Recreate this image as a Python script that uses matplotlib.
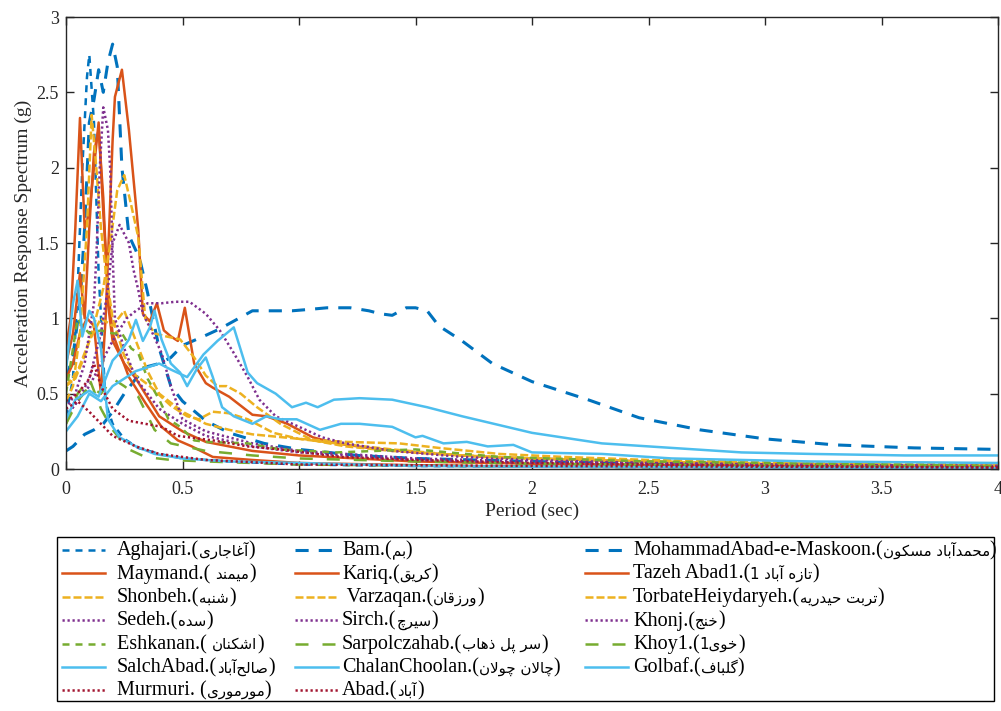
import re
import matplotlib
matplotlib.use("Agg")
import matplotlib.pyplot as plt
from matplotlib.lines import Line2D
from matplotlib.patches import Rectangle
from matplotlib.ticker import FormatStrFormatter

# ---------------- data ----------------
names_latin = ["Aghajari", "Bam", "MohammadAbad-e-Maskoon", "Maymand", "Kariq", "Tazeh Abad1",
               "Shonbeh", " Varzaqan", "TorbateHeiydaryeh", "Sedeh", "Sirch", "Khonj",
               "Eshkanan", "Sarpolczahab", "Khoy1", "SalchAbad", "ChalanChoolan", "Golbaf",
               "Murmuri", "Abad"]
names_persian = ["آغاجاری", "بم", "محمدآباد مسکون", "میمند", "کریق", "تازه آباد 1",
                 "شنبه", "ورزقان", "تربت حیدریه", "سده", "سیرچ", "خنج",
                 "اشکنان", "سر پل ذهاب", "خوی1", "صالح\u200cآباد", "چالان چولان", "گلباف",
                 "مورموری", "آباد"]

T_aghajari = [0, 0.03, 0.05, 0.07, 0.09, 0.1, 0.12, 0.14, 0.17, 0.2, 0.25, 0.31, 0.4, 0.5, 0.7, 1.0, 1.5, 2.0, 3.0, 4.0]
SA_aghajari = [0.35, 0.6, 1.2, 2.0, 2.6, 2.75, 2.3, 1.3, 0.44, 0.3, 0.2, 0.14, 0.1, 0.07, 0.05, 0.03, 0.02, 0.015, 0.01, 0.005]

T_bam = [0, 0.03, 0.06, 0.08, 0.1, 0.12, 0.14, 0.16, 0.18, 0.2, 0.22, 0.24, 0.27, 0.3, 0.32, 0.35, 0.4, 0.45, 0.5, 0.6, 0.7, 0.85, 1.0, 1.25, 1.5, 2.0, 2.5, 3.0, 3.5, 4.0]
SA_bam = [0.6, 0.75, 1.1, 1.6, 2.3, 2.45, 2.65, 2.5, 2.7, 2.82, 2.67, 2.0, 1.55, 1.45, 1.37, 1.17, 0.8, 0.55, 0.45, 0.32, 0.24, 0.17, 0.13, 0.09, 0.07, 0.05, 0.035, 0.025, 0.02, 0.015]

T_mohammad = [0, 0.03, 0.08, 0.12, 0.16, 0.2, 0.25, 0.3, 0.35, 0.4, 0.45, 0.5, 0.59, 0.66, 0.73, 0.8, 0.9, 0.97, 1.05, 1.12, 1.22, 1.3, 1.35, 1.4, 1.46, 1.5, 1.55, 1.6, 1.7, 1.83, 2.0, 2.24, 2.46, 2.72, 3.0, 3.3, 3.64, 4.0]
SA_mohammad = [0.12, 0.15, 0.23, 0.26, 0.3, 0.38, 0.5, 0.6, 0.68, 0.7, 0.74, 0.82, 0.88, 0.93, 0.99, 1.05, 1.05, 1.05, 1.06, 1.07, 1.07, 1.05, 1.03, 1.02, 1.07, 1.07, 1.05, 0.95, 0.85, 0.70, 0.58, 0.46, 0.34, 0.26, 0.2, 0.16, 0.14, 0.13]

T_maymand = [0, 0.02, 0.04, 0.06, 0.08, 0.1, 0.12, 0.14, 0.16, 0.18, 0.2, 0.27, 0.34, 0.41, 0.48, 0.54, 0.63, 0.8, 1.0, 1.5, 2.0, 3.0, 4.0]
SA_maymand = [0.8, 1.0, 1.6, 2.33, 1.6, 1.7, 2.0, 2.3, 1.7, 1.2, 0.9, 0.61, 0.44, 0.28, 0.19, 0.15, 0.08, 0.06, 0.04, 0.025, 0.015, 0.01, 0.005]

T_kariq = [0, 0.03, 0.06, 0.09, 0.12, 0.15, 0.17, 0.2, 0.21, 0.24, 0.27, 0.29, 0.31, 0.33, 0.36, 0.39, 0.42, 0.45, 0.48, 0.51, 0.55, 0.6, 0.63, 0.7, 0.8, 0.86, 0.95, 1.06, 1.16, 1.3, 1.5, 1.8, 2.0, 2.5, 3.0, 3.5, 4.0]
SA_kariq = [0.6, 0.7, 0.9, 1.0, 0.95, 0.5, 1.0, 2.18, 2.47, 2.65, 2.25, 1.92, 1.59, 1.03, 0.98, 1.1, 0.92, 0.88, 0.85, 1.07, 0.70, 0.57, 0.54, 0.48, 0.36, 0.35, 0.3, 0.21, 0.17, 0.14, 0.11, 0.08, 0.07, 0.05, 0.03, 0.025, 0.02]

T_tazeh = [0, 0.03, 0.06, 0.08, 0.1, 0.12, 0.14, 0.16, 0.18, 0.2, 0.25, 0.3, 0.4, 0.5, 0.6, 0.8, 1.0, 1.5, 2.0, 3.0, 4.0]
SA_tazeh = [0.7, 0.9, 1.3, 1.0, 1.6, 2.1, 2.25, 1.8, 1.1, 0.85, 0.7, 0.6, 0.35, 0.25, 0.18, 0.12, 0.09, 0.05, 0.035, 0.02, 0.015]

T_shonbeh = [0, 0.03, 0.06, 0.09, 0.11, 0.13, 0.15, 0.17, 0.2, 0.25, 0.3, 0.36, 0.45, 0.52, 0.57, 0.63, 0.7, 0.78, 0.89, 1.0, 1.16, 1.4, 1.7, 2.0, 2.5, 3.0, 4.0]
SA_shonbeh = [0.45, 0.55, 0.9, 1.6, 2.35, 2.0, 1.6, 1.32, 1.0, 0.75, 0.62, 0.55, 0.42, 0.35, 0.33, 0.38, 0.37, 0.33, 0.24, 0.2, 0.17, 0.13, 0.09, 0.07, 0.05, 0.035, 0.02]

T_varzaqan = [0, 0.05, 0.1, 0.15, 0.2, 0.25, 0.3, 0.35, 0.4, 0.5, 0.6, 0.7, 0.8, 1.0, 1.2, 1.43, 1.6, 1.86, 2.14, 2.5, 3.0, 3.5, 4.0]
SA_varzaqan = [0.55, 0.65, 0.85, 1.0, 0.95, 1.05, 0.85, 0.65, 0.5, 0.38, 0.3, 0.26, 0.23, 0.2, 0.18, 0.17, 0.14, 0.1, 0.08, 0.06, 0.045, 0.035, 0.03]

T_torbat = [0, 0.04, 0.08, 0.12, 0.16, 0.19, 0.22, 0.25, 0.28, 0.31, 0.34, 0.38, 0.43, 0.49, 0.55, 0.6, 0.65, 0.69, 0.75, 0.82, 0.92, 1.06, 1.2, 1.4, 1.7, 2.0, 2.5, 3.0, 4.0]
SA_torbat = [0.55, 0.6, 0.75, 0.95, 1.2, 1.5, 1.85, 1.95, 1.75, 1.54, 1.0, 0.9, 0.88, 0.86, 0.74, 0.62, 0.55, 0.55, 0.5, 0.41, 0.3, 0.19, 0.15, 0.12, 0.09, 0.07, 0.05, 0.035, 0.02]

T_sedeh = [0, 0.04, 0.08, 0.12, 0.13, 0.145, 0.16, 0.18, 0.19, 0.2, 0.21, 0.25, 0.3, 0.4, 0.5, 0.6, 0.8, 1.0, 1.5, 2.0, 3.0, 4.0]
SA_sedeh = [0.4, 0.5, 0.7, 1.1, 1.4, 2.0, 2.4, 2.25, 1.98, 1.43, 1.0, 0.8, 0.6, 0.4, 0.3, 0.22, 0.15, 0.11, 0.06, 0.04, 0.02, 0.01]

T_sirch = [0, 0.05, 0.1, 0.15, 0.2, 0.26, 0.3, 0.35, 0.41, 0.47, 0.53, 0.6, 0.66, 0.72, 0.78, 0.83, 0.9, 1.0, 1.1, 1.2, 1.4, 1.7, 2.0, 2.5, 3.0, 4.0]
SA_sirch = [0.35, 0.45, 0.55, 0.7, 0.85, 1.0, 1.05, 1.1, 1.1, 1.11, 1.11, 1.03, 0.92, 0.77, 0.61, 0.46, 0.35, 0.28, 0.21, 0.17, 0.12, 0.08, 0.06, 0.04, 0.03, 0.02]

T_khonj = [0, 0.05, 0.1, 0.15, 0.18, 0.2, 0.23, 0.27, 0.29, 0.31, 0.33, 0.36, 0.41, 0.45, 0.5, 0.6, 0.8, 1.0, 1.5, 2.0, 3.0, 4.0]
SA_khonj = [0.35, 0.45, 0.6, 0.9, 1.2, 1.5, 1.62, 1.5, 1.32, 1.19, 1.03, 0.94, 0.77, 0.55, 0.33, 0.25, 0.17, 0.12, 0.07, 0.05, 0.03, 0.02]

T_eshkanan = [0, 0.03, 0.05, 0.07, 0.1, 0.15, 0.2, 0.24, 0.28, 0.31, 0.35, 0.4, 0.44, 0.49, 0.55, 0.6, 0.78, 0.92, 1.16, 1.5, 1.86, 2.5, 3.0, 4.0]
SA_eshkanan = [0.5, 0.8, 1.0, 0.95, 0.9, 0.92, 0.9, 0.9, 0.8, 0.77, 0.6, 0.46, 0.33, 0.28, 0.19, 0.18, 0.17, 0.13, 0.11, 0.13, 0.08, 0.05, 0.04, 0.02]

T_sarpol = [0, 0.05, 0.1, 0.15, 0.2, 0.27, 0.34, 0.45, 0.6, 1.0, 2.0, 4.0]
SA_sarpol = [0.3, 0.5, 0.6, 0.4, 0.26, 0.13, 0.08, 0.06, 0.05, 0.03, 0.015, 0.005]

T_khoy = [0, 0.05, 0.1, 0.15, 0.2, 0.25, 0.31, 0.38, 0.45, 0.6, 0.8, 1.0, 1.5, 2.0, 3.0, 4.0]
SA_khoy = [0.3, 0.45, 0.55, 0.5, 0.6, 0.55, 0.48, 0.26, 0.17, 0.12, 0.09, 0.07, 0.05, 0.035, 0.02, 0.015]

T_saleh = [0, 0.03, 0.05, 0.07, 0.1, 0.12, 0.15, 0.18, 0.23, 0.3, 0.38, 0.5, 0.7, 1.0, 1.5, 2.0, 3.0, 4.0]
SA_saleh = [0.65, 1.1, 1.25, 0.88, 1.05, 1.0, 0.8, 0.33, 0.21, 0.15, 0.1, 0.07, 0.05, 0.04, 0.02, 0.015, 0.01, 0.005]

T_chalan = [0, 0.04, 0.1, 0.14, 0.2, 0.23, 0.27, 0.3, 0.33, 0.36, 0.38, 0.41, 0.45, 0.49, 0.52, 0.56, 0.6, 0.63, 0.67, 0.72, 0.8, 0.86, 0.92, 0.99, 1.09, 1.18, 1.26, 1.4, 1.5, 1.53, 1.62, 1.72, 1.81, 1.92, 2.0, 2.3, 2.6, 2.9, 3.2, 4.0]
SA_chalan = [0.33, 0.46, 0.52, 0.48, 0.72, 0.77, 0.86, 0.99, 0.85, 0.94, 1.05, 0.86, 0.7, 0.64, 0.55, 0.66, 0.74, 0.61, 0.41, 0.35, 0.3, 0.35, 0.33, 0.33, 0.26, 0.3, 0.3, 0.28, 0.21, 0.22, 0.17, 0.18, 0.15, 0.16, 0.11, 0.1, 0.07, 0.06, 0.05, 0.04]

T_golbaf = [0, 0.05, 0.1, 0.15, 0.2, 0.3, 0.4, 0.45, 0.52, 0.59, 0.65, 0.72, 0.78, 0.82, 0.9, 0.97, 1.03, 1.08, 1.15, 1.26, 1.4, 1.55, 1.7, 2.0, 2.3, 2.6, 2.9, 3.2, 3.6, 4.0]
SA_golbaf = [0.25, 0.35, 0.5, 0.45, 0.55, 0.65, 0.7, 0.66, 0.61, 0.76, 0.85, 0.94, 0.64, 0.57, 0.5, 0.41, 0.44, 0.41, 0.46, 0.47, 0.46, 0.41, 0.35, 0.24, 0.17, 0.14, 0.11, 0.1, 0.09, 0.09]

T_murmuri = [0, 0.05, 0.1, 0.12, 0.15, 0.2, 0.27, 0.34, 0.41, 0.48, 0.63, 0.78, 0.92, 1.18, 1.5, 2.0, 3.0, 4.0]
SA_murmuri = [0.45, 0.5, 0.6, 0.7, 0.55, 0.4, 0.32, 0.3, 0.28, 0.22, 0.19, 0.15, 0.13, 0.08, 0.06, 0.04, 0.02, 0.01]

T_abad = [0, 0.05, 0.1, 0.15, 0.2, 0.3, 0.4, 0.6, 1.0, 2.0, 4.0]
SA_abad = [0.4, 0.45, 0.38, 0.3, 0.22, 0.15, 0.1, 0.06, 0.03, 0.02, 0.01]

periods = [T_aghajari, T_bam, T_mohammad, T_maymand, T_kariq, T_tazeh, T_shonbeh, T_varzaqan,
           T_torbat, T_sedeh, T_sirch, T_khonj, T_eshkanan, T_sarpol, T_khoy, T_saleh, T_chalan,
           T_golbaf, T_murmuri, T_abad]
spectra = [SA_aghajari, SA_bam, SA_mohammad, SA_maymand, SA_kariq, SA_tazeh, SA_shonbeh, SA_varzaqan,
           SA_torbat, SA_sedeh, SA_sirch, SA_khonj, SA_eshkanan, SA_sarpol, SA_khoy, SA_saleh, SA_chalan,
           SA_golbaf, SA_murmuri, SA_abad]

x_ticks = [0, 0.5, 1, 1.5, 2, 2.5, 3, 3.5, 4]
y_ticks = [0, 0.5, 1, 1.5, 2, 2.5, 3]

# ---------------- styles ----------------
BLUE, ORANGE, YELLOW, PURPLE = "#0072BD", "#D95319", "#EDB120", "#7E2F8E"
GREEN, CYAN, DARKRED = "#77AC30", "#4DBEEE", "#A2142F"
short_dash = (2.8, 2.4)
long_dash = (4.3, 3.3)
yel_dash = (3.2, 1.2)
dot = (0.9, 1.1)
styles = [
    (BLUE, 1.8, short_dash), (BLUE, 2.2, long_dash), (BLUE, 2.2, long_dash),
    (ORANGE, 1.8, None), (ORANGE, 1.8, None), (ORANGE, 1.8, None),
    (YELLOW, 1.8, yel_dash), (YELLOW, 1.8, yel_dash), (YELLOW, 1.8, yel_dash),
    (PURPLE, 1.8, dot), (PURPLE, 1.8, dot), (PURPLE, 1.8, dot),
    (GREEN, 1.8, short_dash), (GREEN, 1.8, (5.2, 5.6)), (GREEN, 1.8, (5.2, 5.6)),
    (CYAN, 1.8, None), (CYAN, 1.8, None), (CYAN, 1.8, None),
    (DARKRED, 1.8, dot), (DARKRED, 1.8, dot),
]

# ---------------- minimal Persian shaping for display ----------------
FORMS = {
    "\u0627": ("\uFE8D", "\uFE8E", None, None), "\u0622": ("\uFE81", "\uFE82", None, None),
    "\u062F": ("\uFEA9", "\uFEAA", None, None), "\u0630": ("\uFEAB", "\uFEAC", None, None),
    "\u0631": ("\uFEAD", "\uFEAE", None, None), "\u0632": ("\uFEAF", "\uFEB0", None, None),
    "\u0648": ("\uFEED", "\uFEEE", None, None),
    "\u0628": ("\uFE8F", "\uFE90", "\uFE91", "\uFE92"), "\u067E": ("\uFB56", "\uFB57", "\uFB58", "\uFB59"),
    "\u062A": ("\uFE95", "\uFE96", "\uFE97", "\uFE98"), "\u062C": ("\uFE9D", "\uFE9E", "\uFE9F", "\uFEA0"),
    "\u0686": ("\uFB7A", "\uFB7B", "\uFB7C", "\uFB7D"), "\u062D": ("\uFEA1", "\uFEA2", "\uFEA3", "\uFEA4"),
    "\u062E": ("\uFEA5", "\uFEA6", "\uFEA7", "\uFEA8"), "\u0633": ("\uFEB1", "\uFEB2", "\uFEB3", "\uFEB4"),
    "\u0634": ("\uFEB5", "\uFEB6", "\uFEB7", "\uFEB8"), "\u0635": ("\uFEB9", "\uFEBA", "\uFEBB", "\uFEBC"),
    "\u063A": ("\uFECD", "\uFECE", "\uFECF", "\uFED0"), "\u0641": ("\uFED1", "\uFED2", "\uFED3", "\uFED4"),
    "\u0642": ("\uFED5", "\uFED6", "\uFED7", "\uFED8"), "\u06A9": ("\uFB8E", "\uFB8F", "\uFB90", "\uFB91"),
    "\u06AF": ("\uFB92", "\uFB93", "\uFB94", "\uFB95"), "\u0644": ("\uFEDD", "\uFEDE", "\uFEDF", "\uFEE0"),
    "\u0645": ("\uFEE1", "\uFEE2", "\uFEE3", "\uFEE4"), "\u0646": ("\uFEE5", "\uFEE6", "\uFEE7", "\uFEE8"),
    "\u0647": ("\uFEE9", "\uFEEA", "\uFEEB", "\uFEEC"), "\u06CC": ("\uFBFC", "\uFBFD", "\uFBFE", "\uFBFF"),
}
LAMALEF = {"\u0627": ("\uFEFB", "\uFEFC"), "\u0622": ("\uFEF5", "\uFEF6")}


def shape_persian(s):
    chars = list(s)
    n = len(chars)
    out = []
    i = 0
    while i < n:
        c = chars[i]
        if c not in FORMS:
            if c != "\u200c":
                out.append(c)
            i += 1
            continue
        prev = chars[i - 1] if i > 0 else None
        jp = prev in FORMS and FORMS[prev][2] is not None
        nxt = chars[i + 1] if i + 1 < n else None
        if c == "\u0644" and nxt in LAMALEF:
            out.append(LAMALEF[nxt][1] if jp else LAMALEF[nxt][0])
            i += 2
            continue
        jn = nxt in FORMS and FORMS[c][2] is not None
        iso, fin, ini, med = FORMS[c]
        out.append(med if (jp and jn) else fin if jp else ini if jn else iso)
        i += 1
    shaped = "".join(out)
    tokens = re.findall(r"\d+|.", shaped)
    return "".join(reversed(tokens))


def label_parts(latin, persian):
    vis = shape_persian(persian)
    if latin in ("Maymand", "Eshkanan"):
        return f"{latin}.( ", vis, ")"
    if latin == "Murmuri":
        return f"{latin}. (", vis, ")"
    return f"{latin}.(", vis, ")"

# ---------------- figure ----------------
W, H = 1001, 711
serif = ["Liberation Serif", "DejaVu Serif"]
fig = plt.figure(figsize=(W / 100, H / 100), dpi=100)
ax = fig.add_axes([66 / W, 1 - 469 / H, (998 - 66) / W, (469 - 17) / H])

for T, SA, (col, lw, dsh) in zip(periods, spectra, styles):
    ln, = ax.plot(T, SA, color=col, lw=lw)
    if dsh is not None:
        ln.set_dashes(dsh)
        ln.set_dash_capstyle("butt")

ax.set_xlim(0, 4)
ax.set_ylim(0, 3)
ax.set_xticks(x_ticks)
ax.set_yticks(y_ticks)
ax.xaxis.set_major_formatter(FormatStrFormatter("%g"))
ax.yaxis.set_major_formatter(FormatStrFormatter("%g"))
ax.tick_params(direction="in", length=5.5, width=1.0, top=True, right=True, colors="#262626",
               labelsize=13, labelcolor="#262626")
ax.tick_params(axis="x", pad=9)
ax.tick_params(axis="y", pad=5)
for lab in ax.get_xticklabels() + ax.get_yticklabels():
    lab.set_family(serif)
for sp in ax.spines.values():
    sp.set_linewidth(1.0)
    sp.set_color("#262626")
ax.set_xlabel("Period (sec)", fontsize=14, family=serif, color="#262626", labelpad=3)
ax.set_ylabel("Acceleration Response Spectrum (g)", fontsize=14, family=serif, color="#262626", labelpad=3)

# ---------------- legend (3 columns, row-major, fixed row pitch) ----------------
box_l, box_t, box_r, box_b = 57, 537, 994, 701
row0, row_pitch = 550, 23.4
handle_x = [(62, 105), (295, 338), (585, 628)]
text_x = [117, 342, 633]
latin_size, persian_size = 14.5, 10.8


def fx(px):
    return px / W


def fy(py):
    return 1 - py / H


fig.add_artist(Rectangle((fx(box_l), fy(box_b)), fx(box_r) - fx(box_l), fy(box_t) - fy(box_b),
                         transform=fig.transFigure, facecolor="white", edgecolor="black", lw=1.0, zorder=5))
renderer = fig.canvas.get_renderer()
for k, (lat, per, (col, lw, dsh)) in enumerate(zip(names_latin, names_persian, styles)):
    r, c = divmod(k, 3)
    yc = row0 + r * row_pitch
    hl = Line2D([fx(handle_x[c][0]), fx(handle_x[c][1])], [fy(yc), fy(yc)], color=col, lw=lw,
                transform=fig.transFigure, zorder=6)
    if dsh is not None:
        hl.set_dashes(dsh)
        hl.set_dash_capstyle("butt")
    fig.add_artist(hl)
    pre, vis, post = label_parts(lat, per)
    base = fy(yc + 5.5)
    t1 = fig.text(fx(text_x[c]), base, pre, family=serif, fontsize=latin_size, va="baseline", zorder=6)
    x1 = t1.get_window_extent(renderer).x1
    t2 = fig.text(x1 / W, base, vis, family="DejaVu Sans", fontsize=persian_size, va="baseline", zorder=6)
    x2 = t2.get_window_extent(renderer).x1
    fig.text(x2 / W, base, post, family=serif, fontsize=latin_size, va="baseline", zorder=6)

fig.savefig("out.png", dpi=100)
